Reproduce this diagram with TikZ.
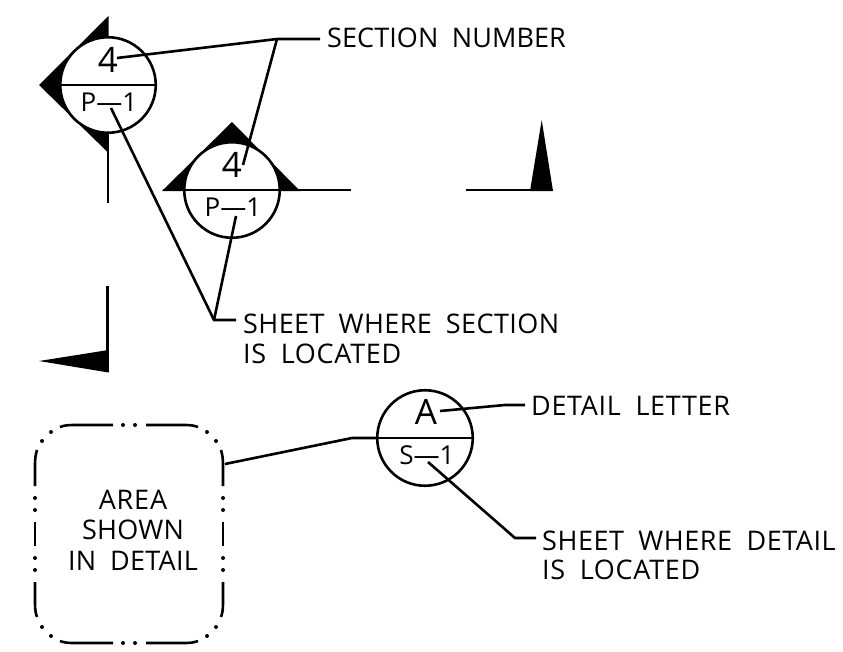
\documentclass[tikz,border=0pt]{standalone}
\usepackage{fontspec}
\setmainfont{Open Sans}[LetterSpace=1,WordSpace=1.9]
\newcommand{\lsp}[1]{\addfontfeature{LetterSpace=#1}}
\tikzset{
 ln/.style={line width=2.6pt,line cap=butt,line join=miter},
 txt/.style={inner sep=0pt,font=\fontsize{27}{30}\selectfont,anchor=base west},
 ctxt/.style={inner sep=0pt,font=\fontsize{27}{30}\selectfont,anchor=base},
 sub/.style={inner sep=0pt,font=\fontsize{26}{30}\selectfont\addfontfeature{LetterSpace=0},anchor=base},
 big/.style={inner sep=0pt,font=\fontsize{35}{30}\selectfont,anchor=base},
 bub/.style={circle,draw,fill=white,line width=2.6pt,minimum size=95.5pt,inner sep=0pt}
}
\begin{document}
\begin{tikzpicture}[x=1pt,y=-1pt]
\useasboundingbox (0,0) rectangle (843,651);
% section marker 1
\fill (108.5,16) -- (39,85) -- (108.5,153) -- cycle;
\node[bub] (c1) at (108,85) {};
\draw[ln] (c1.west) -- (c1.east);
\coordinate (v1a) at (108,133);
\coordinate (v1b) at (108,203);
\draw[ln] (v1a) -- (v1b);
\node[big] (n1) at (108,72) {4};
\node[sub] (p1) at (109,111) {P—1};
% section marker 2
\fill (232,122) -- (162,191) -- (300,191) -- cycle;
\node[bub] (c2) at (232,190) {};
\draw[ln] (163,190) -- (351,190);
\node[big] (n2) at (232,177) {4};
\node[sub] (p2) at (233,216) {P—1};
% right marker
\coordinate (a1) at (466,190);
\coordinate (a2) at (532,190);
\draw[ln] (a1) -- (a2);
\fill (530,191) -- (541.7,120) -- (553,191) -- cycle;
% lower left marker
\coordinate (b1) at (107.7,286);
\coordinate (b2) at (107.7,372);
\draw[ln] (b1) -- (b2);
\fill (108.5,350) -- (39,361) -- (108.5,372.5) -- cycle;
% leaders
\coordinate (j1) at (277,39);
\coordinate (e1) at (320,39);
\coordinate (s1) at (117,58);
\coordinate (s2) at (243,165);
\draw[ln] (s1) -- (j1) -- (e1);
\draw[ln] (j1) -- (s2);
\coordinate (j2) at (214,320);
\coordinate (e2) at (236,320);
\coordinate (s3) at (111,108);
\coordinate (s4) at (236,216);
\draw[ln] (s3) -- (j2) -- (e2);
\draw[ln] (s4) -- (j2);
\node[txt] (t1) at (327,47) {\lsp{0.3}SECTION NUMBER};
\node[txt] (t2) at (243,333) {\lsp{1.5}SHEET WHERE SECTION};
\node[txt] (t3) at (243,363) {\lsp{2.5}IS LOCATED};
% detail bubble
\node[bub] (c3) at (425,438) {};
\draw[ln] (c3.west) -- (c3.east);
\node[big] (n3) at (426,424) {A};
\node[sub] (p3) at (427,464) {S—1};
\coordinate (d1) at (440,411);
\coordinate (d2) at (505,405);
\coordinate (d3) at (525,405);
\draw[ln] (d1) -- (d2) -- (d3);
\coordinate (f1) at (428,462);
\coordinate (f2) at (515,538);
\coordinate (f3) at (536,538);
\draw[ln] (f1) -- (f2) -- (f3);
\node[txt] (t4) at (531,415) {\lsp{2.5}DETAIL LETTER};
\node[txt] (t5) at (542,550) {\lsp{2}SHEET WHERE DETAIL};
\node[txt] (t6) at (542,579) {\lsp{2.5}IS LOCATED};
% area
\coordinate (g1) at (352,438);
\coordinate (g2) at (225,464);
\draw[ln] (c3.west) -- (g1) -- (g2);
\draw[ln] (60,427) .. controls (64,425.5) and (68,425) .. (73,425) -- (113,425);
\draw[ln] (146,425) -- (185,425) .. controls (190,425) and (194,425.5) .. (198,427);
\draw[ln] (60,641) .. controls (64,642.5) and (68,643) .. (73,643) -- (113,643);
\draw[ln] (146,643) -- (185,643) .. controls (190,643) and (194,642.5) .. (198,641);
\draw[ln] (35,486) -- (35,465) .. controls (35,459) and (35.5,455) .. (37,450);
\draw[ln] (35,522) -- (35,546);
\draw[ln] (35,582) -- (35,603) .. controls (35,609) and (35.5,613) .. (37,617);
\draw[ln] (223,486) -- (223,465) .. controls (223,459) and (222.5,455) .. (221,450);
\draw[ln] (223,522) -- (223,546);
\draw[ln] (223,582) -- (223,603) .. controls (223,609) and (222.5,613) .. (221,617);
\foreach \p/\q in {123/425,135/425,123/643,135/643,51/432,42/441,207/432,216/441,51/636,42/627,207/636,216/627,35/498,35/510,35/558,35/570,223/498,223/510,223/558,223/570}
  \fill (\p,\q) circle (2pt);
\node[ctxt] (t7) at (133,509) {\lsp{3}AREA};
\node[ctxt] (t8) at (133,539) {SHOWN};
\node[ctxt] (t9) at (133,570) {IN DETAIL};
\end{tikzpicture}
\end{document}
